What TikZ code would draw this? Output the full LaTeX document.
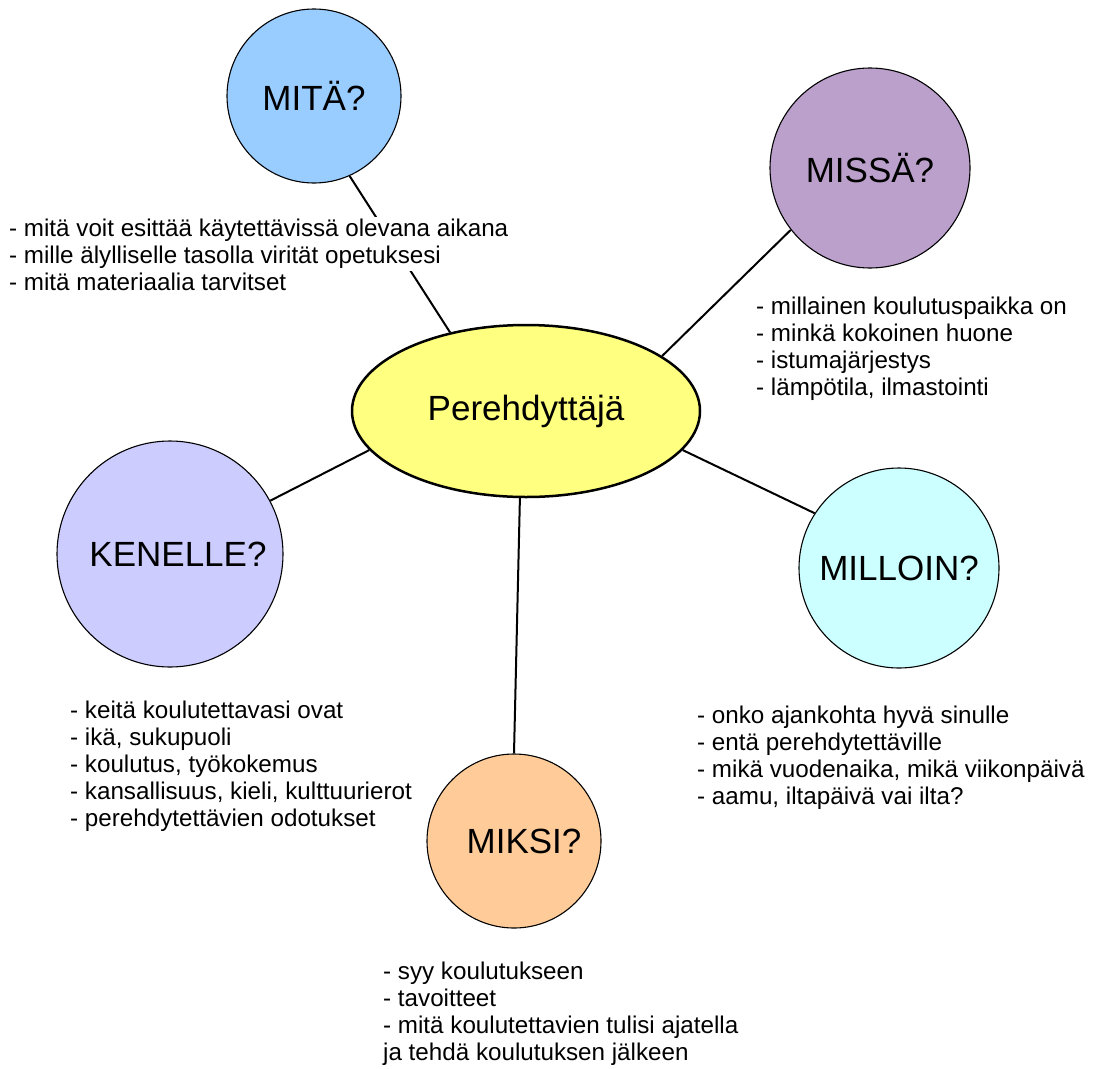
\documentclass[tikz,border=0pt]{standalone}
\usepackage{fontspec}
\setmainfont{Liberation Sans}
\usetikzlibrary{backgrounds,shapes.geometric}
\definecolor{cmita}{RGB}{153,204,255}
\definecolor{cmissa}{RGB}{187,160,204}
\definecolor{ckenelle}{RGB}{204,204,255}
\definecolor{cmilloin}{RGB}{204,255,255}
\definecolor{cmiksi}{RGB}{255,204,153}
\definecolor{chub}{RGB}{255,255,128}
\tikzset{
  bubble/.style={circle, draw=black, line width=1.1pt, inner sep=0pt, font=\fontsize{35}{40}\selectfont},
  hub/.style={ellipse, draw=black, line width=2.5pt, fill=chub, minimum width=348pt, minimum height=172pt, inner sep=0pt, font=\fontsize{35}{40}\selectfont},
  note/.style={anchor=north west, inner sep=0pt, align=left, font=\fontsize{24.2}{27}\selectfont},
  link/.style={line width=2pt, draw=black}
}
\begin{document}
\begin{tikzpicture}[x=1pt,y=-1pt]
\useasboundingbox (0,0) rectangle (1097,1068);

\node[hub] (pere) at (526,411) {Perehdyttäjä};
\node[bubble, fill=cmita, minimum size=174pt] (mita) at (314,96) {MITÄ?};
\node[bubble, fill=cmissa, minimum size=200pt] (missa) at (870,168) {MISSÄ?};
\node[bubble, fill=ckenelle, minimum size=226pt] (kenelle) at (170,554) {\hspace*{16pt}KENELLE?};
\node[bubble, fill=cmilloin, minimum size=200pt] (milloin) at (899,568) {MILLOIN?};
\node[bubble, fill=cmiksi, minimum size=174pt] (miksi) at (514,841) {\hspace*{20pt}MIKSI?};

\node[note, fill=white] (mitatxt) at (9,217.1) {\strut- mitä voit esittää käytettävissä olevana aikana\\- mille älylliselle tasolla virität opetuksesi\strut};
\node[note] (mitatxtb) at (9,271.1) {\strut- mitä materiaalia tarvitset};
\node[note] (missatxt) at (756,295.1) {\strut- millainen koulutuspaikka on\\- minkä kokoinen huone\\- istumajärjestys\\- lämpötila, ilmastointi};
\node[note] (kenelletxt) at (70,699.1) {\strut- keitä koulutettavasi ovat\\- ikä, sukupuoli\\- koulutus, työkokemus\\- kansallisuus, kieli, kulttuurierot\\- perehdytettävien odotukset};
\node[note] (milloitxt) at (697,704.1) {\strut- onko ajankohta hyvä sinulle\\- entä perehdytettäville\\- mikä vuodenaika, mikä viikonpäivä\\- aamu, iltapäivä vai ilta?};
\node[note] (miksitxt) at (383,960.1) {\strut- syy koulutukseen\\- tavoitteet\\- mitä koulutettavien tulisi ajatella\\ja tehdä koulutuksen jälkeen};

\begin{pgfonlayer}{background}
\fill[white] (0,0) rectangle (1097,1068);
\draw[link] (mita.-66.7) -- (pere.134);
\draw[link] (missa.218.7) -- (pere.22.9);
\draw[link] (kenelle.28.8) -- (pere.194.5);
\draw[link] (milloin.147.7) -- (pere.-14.8);
\draw[link] (miksi.90.6) -- (pere.-94);
\end{pgfonlayer}
\end{tikzpicture}
\end{document}
